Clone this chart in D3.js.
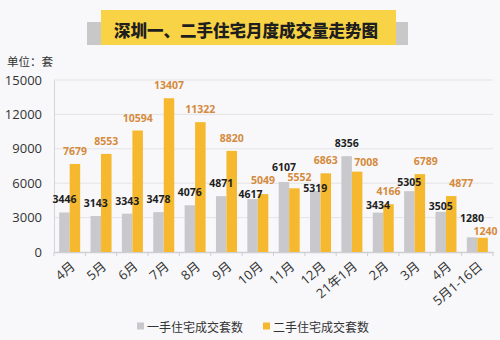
<!DOCTYPE html>
<html><head><meta charset="utf-8">
<script src="https://cdn.jsdelivr.net/npm/d3@7"></script>
<style>
html,body{margin:0;padding:0;background:#f8f8fa;}
svg{display:block;font-family:"Open Sans","Noto Sans CJK SC",sans-serif;}
</style></head>
<body><svg id="c" width="500" height="340"></svg>
<script>
const categories = ["4月","5月","6月","7月","8月","9月","10月","11月","12月","21年1月","2月","3月","4月","5月1-16日"];
const newHomes = [3446,3143,3343,3478,4076,4871,4617,6107,5319,8356,3434,5305,3505,1280];
const resale = [7679,8553,10594,13407,11322,8820,5049,5552,6863,7008,4166,6789,4877,1240];
const seriesNames = ["一手住宅成交套数","二手住宅成交套数"];
const yTicks = [0,3000,6000,9000,12000,15000];
const title = "深圳一、二手住宅月度成交量走势图";
const unitLabel = "单位：套";

// label nudges (layout only)
const grayNudge = {6:[-2,8],7:[0,-2],8:[0,10],10:[0,5],11:[0,4],12:[0,7],13:[0,-6]};
const yellowNudge = {6:[0,-1],7:[5,2],9:[9,3],11:[6,0],12:[10,0],13:[3,6]};

const svg = d3.select("#c");
const colGray = "#c9c9cd", colYellow = "#f5b82e", colYLabel = "#d58a3c";
const m = {l:54, r:493, t:80, b:252};

const x = d3.scaleBand().domain(d3.range(categories.length)).range([m.l, m.r]).padding(0);
const y = d3.scaleLinear().domain([0,15000]).range([m.b, m.t]);
const barW = 10.5;

// title
svg.append("rect").attr("x",87).attr("y",22).attr("width",321).attr("height",23).attr("fill","#c8c8c8");
svg.append("rect").attr("x",101).attr("y",10).attr("width",295).attr("height",35).attr("fill","#f8d346");
svg.append("text").attr("x",246).attr("y",30).attr("text-anchor","middle").attr("dominant-baseline","central")
  .attr("font-family","Noto Sans CJK SC").attr("font-weight","900").attr("font-size",16.5).attr("fill","#1e1e1e").text(title);

svg.append("text").attr("x",7).attr("y",66).attr("font-family","Noto Sans CJK SC").attr("font-size",11.5).attr("fill","#333").text(unitLabel);

// grid
svg.append("g").selectAll("line").data(yTicks.slice(1)).join("line")
  .attr("x1",m.l).attr("x2",m.r).attr("y1",d=>y(d)).attr("y2",d=>y(d))
  .attr("stroke","#e4e4e6").attr("stroke-width",1);

// y axis
const ya = svg.append("g").attr("transform",`translate(${m.l},0)`)
  .call(d3.axisLeft(y).tickValues(yTicks).tickSize(0).tickPadding(12).tickFormat(d3.format("d")));
ya.select(".domain").attr("stroke","#d4d4d6");
ya.selectAll("text").attr("font-size",13).attr("fill","#333").attr("font-family","Open Sans");

// x axis
const xa = svg.append("g").attr("transform",`translate(0,${m.b})`)
  .call(d3.axisBottom(x).tickSize(0).tickFormat(""));
xa.select(".domain").attr("stroke","#cfcfd2").attr("stroke-width",1.5);
svg.append("g").selectAll("line").data(d3.range(categories.length+1)).join("line")
  .attr("x1",i=>m.l + i*x.step()).attr("x2",i=>m.l + i*x.step())
  .attr("y1",m.b).attr("y2",m.b+4).attr("stroke","#cfcfd2");

svg.append("g").selectAll("text").data(categories).join("text")
  .attr("transform",(d,i)=>`translate(${x(i)+x.bandwidth()/2+3},${m.b+12}) rotate(-40)`)
  .attr("text-anchor","end").attr("dominant-baseline","central")
  .attr("font-size",13).attr("fill","#333").attr("font-family","Open Sans, Noto Sans CJK SC").text(d=>d);

// bars
const cx = i => x(i)+x.bandwidth()/2;
svg.append("g").selectAll("rect").data(newHomes).join("rect")
  .attr("x",(d,i)=>cx(i)-barW).attr("width",barW).attr("y",d=>y(d)).attr("height",d=>y(0)-y(d)).attr("fill",colGray);
svg.append("g").selectAll("rect").data(resale).join("rect")
  .attr("x",(d,i)=>cx(i)).attr("width",barW).attr("y",d=>y(d)).attr("height",d=>y(0)-y(d)).attr("fill",colYellow);

// labels
svg.append("g").selectAll("text").data(newHomes).join("text")
  .attr("x",(d,i)=>cx(i)-barW/2+((grayNudge[i]||[0,0])[0]))
  .attr("y",(d,i)=>y(d)-9+((grayNudge[i]||[0,0])[1]))
  .attr("text-anchor","middle").attr("font-size",10.5).attr("font-weight","bold").attr("fill","#1e1e1e").text(d=>d);
svg.append("g").selectAll("text").data(resale).join("text")
  .attr("x",(d,i)=>cx(i)+barW/2+((yellowNudge[i]||[0,0])[0]))
  .attr("y",(d,i)=>y(d)-9+((yellowNudge[i]||[0,0])[1]))
  .attr("text-anchor","middle").attr("font-size",10.5).attr("font-weight","bold").attr("fill",colYLabel).text(d=>d);

// legend
const lg = svg.append("g");
const legX = [137,263];
[colGray,colYellow].forEach((c,i)=>{
  lg.append("rect").attr("x",legX[i]).attr("y",322.5).attr("width",7).attr("height",7).attr("fill",c);
  lg.append("text").attr("x",legX[i]+10).attr("y",326).attr("dominant-baseline","central")
    .attr("font-family","Noto Sans CJK SC").attr("font-size",12).attr("fill","#333").text(seriesNames[i]);
});
</script></body></html>
